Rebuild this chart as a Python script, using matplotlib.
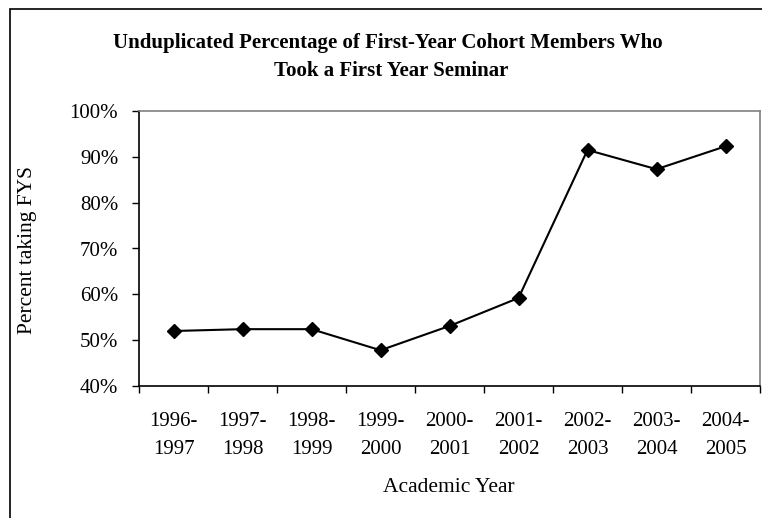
import matplotlib.pyplot as plt
from matplotlib.patches import Rectangle
from matplotlib.ticker import FixedLocator, NullFormatter, FixedFormatter

# 学年与参加新生研讨课的比例（%）
years = ['1996-\n1997', '1997-\n1998', '1998-\n1999', '1999-\n2000', '2000-\n2001',
         '2001-\n2002', '2002-\n2003', '2003-\n2004', '2004-\n2005']
pct = [52.0, 52.4, 52.4, 47.8, 53.1, 59.2, 91.5, 87.3, 92.3]
yticks = [40, 50, 60, 70, 80, 90, 100]

plt.rcParams['font.family'] = ['Liberation Serif', 'DejaVu Serif']

W, H = 762, 518
fig = plt.figure(figsize=(W / 100, H / 100), dpi=100)
ax = fig.add_axes([139 / W, 1 - 386 / H, 621 / W, 275 / H])

x = list(range(len(years)))
ax.plot(x, pct, color='black', lw=1.5, marker='D', markersize=7.5,
        markerfacecolor='black', markeredgecolor='black', clip_on=False)

ax.set_xlim(-0.5, len(years) - 0.5)
ax.set_ylim(40, 100)
ax.set_yticks(yticks)
ax.set_yticklabels(['%d%%' % v for v in yticks], fontsize=15)

# 刻度线放在类别之间，标签放在类别中心
ax.xaxis.set_major_locator(FixedLocator([i - 0.5 for i in range(len(years) + 1)]))
ax.xaxis.set_major_formatter(NullFormatter())
ax.xaxis.set_minor_locator(FixedLocator(x))
ax.xaxis.set_minor_formatter(FixedFormatter(years))
ax.tick_params(axis='x', which='minor', length=0, labelsize=15, pad=19)
ax.tick_params(axis='x', which='major', length=5, width=1, direction='out')
ax.tick_params(axis='y', length=5, width=1, direction='out', pad=10)
for lab in ax.xaxis.get_minorticklabels():
    lab.set_linespacing(1.65)

ax.spines['left'].set_color('black')
ax.spines['bottom'].set_color('black')
ax.spines['left'].set_linewidth(1.2)
ax.spines['bottom'].set_linewidth(1.2)
for s in ('top', 'right'):
    ax.spines[s].set_color('#808080')
    ax.spines[s].set_linewidth(1.2)

fig.text(388 / W, 1 - 43 / H, 'Unduplicated Percentage of First-Year Cohort Members Who',
         ha='center', va='center', fontsize=15, fontweight='bold')
fig.text(391 / W, 1 - 71 / H, 'Took a First Year Seminar',
         ha='center', va='center', fontsize=15, fontweight='bold')
fig.text(28 / W, 1 - 250 / H, 'Percent taking FYS', rotation=90,
         ha='center', va='center', fontsize=15.5)
fig.text(449 / W, 1 - 487 / H, 'Academic Year', ha='center', va='center', fontsize=15.5)

# 图表外框
fig.patches.append(Rectangle((10 / W, -0.1), 1.2, 1.1 - 9 / H, transform=fig.transFigure,
                             fill=False, edgecolor='black', lw=1.2, clip_on=False))

fig.savefig('out.png', dpi=100)
plt.close(fig)
